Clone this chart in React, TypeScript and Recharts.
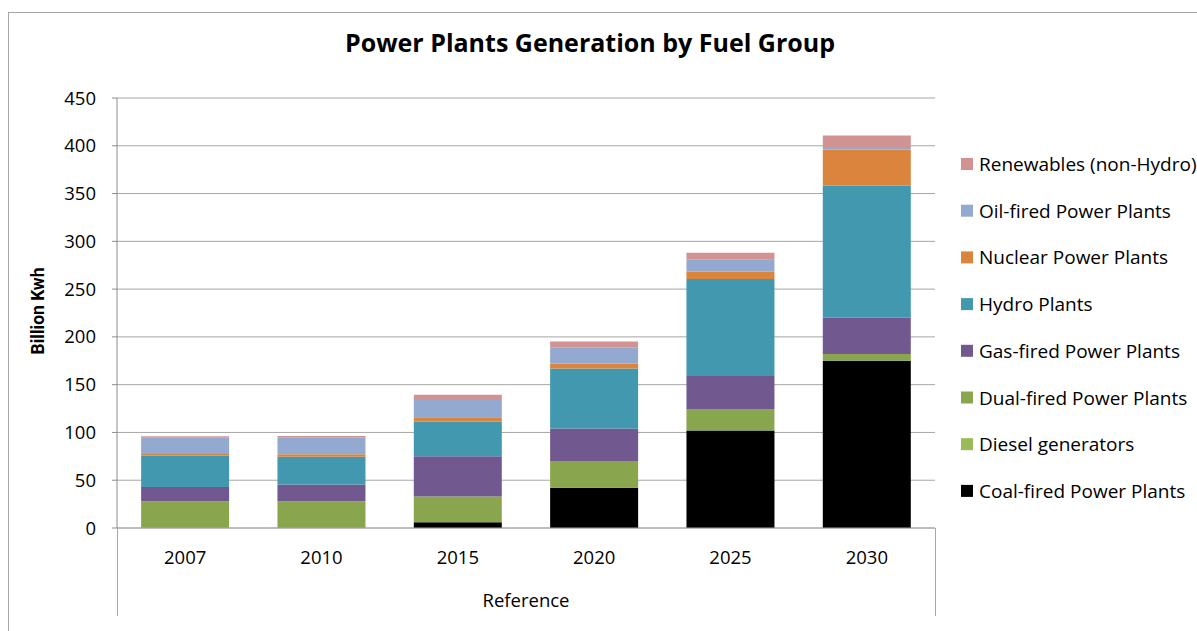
import { Bar, BarChart, CartesianGrid, XAxis, YAxis } from "recharts";

const years = ["2007", "2010", "2015", "2020", "2025", "2030"];
const coal = [0, 0, 6, 42, 102, 175];
const diesel = [0, 0, 0, 0, 0, 0];
const dual = [28, 28, 27, 28, 22, 7];
const gas = [15, 17.5, 42, 34, 35, 38];
const hydro = [32.5, 29, 36.5, 63, 101.5, 138.5];
const nuclear = [2, 2.8, 4.5, 5.2, 8, 37.3];
const oil = [17, 17.6, 18, 17, 12.3, 2];
const renewables = [1.4, 1.4, 5.5, 5.9, 7.3, 13];
const yTicks = [0, 50, 100, 150, 200, 250, 300, 350, 400, 450];

// bottom to top
const series = [
  { key: "coal", name: "Coal-fired Power Plants", color: "#000000", values: coal },
  { key: "diesel", name: "Diesel generators", color: "#9BBB59", values: diesel },
  { key: "dual", name: "Dual-fired Power Plants", color: "#89A54E", values: dual },
  { key: "gas", name: "Gas-fired Power Plants", color: "#71588F", values: gas },
  { key: "hydro", name: "Hydro Plants", color: "#4198AF", values: hydro },
  { key: "nuclear", name: "Nuclear Power Plants", color: "#DB843D", values: nuclear },
  { key: "oil", name: "Oil-fired Power Plants", color: "#93A9CF", values: oil },
  { key: "renew", name: "Renewables (non-Hydro)", color: "#D19392", values: renewables },
];

const chartData = years.map((year, i) => {
  const row: Record<string, string | number> = { year };
  series.forEach((s) => {
    row[s.key] = s.values[i];
  });
  return row;
});

const font = "'Open Sans', sans-serif";

export default function App() {
  const legendItems = [...series].reverse();
  return (
    <div style={{ position: "absolute", left: 0, top: 0, width: 1197, height: 631, background: "#fff", fontFamily: font, overflow: "hidden" }}>
      <BarChart
        width={1197}
        height={631}
        data={chartData}
        margin={{ top: 98, right: 262, bottom: 15, left: 47 }}
        barCategoryGap="17.7%"
      >
        <CartesianGrid vertical={false} stroke="#a6a6a6" />
        <XAxis
          dataKey="year"
          height={88}
          tickLine={false}
          tickSize={6}
          tickMargin={17}
          axisLine={{ stroke: "#a6a6a6" }}
          tick={{ fill: "#000", fontSize: 18.5, fontFamily: font }}
          label={{ value: "Reference", position: "insideBottom", offset: 9, fill: "#000", fontSize: 18.5, fontFamily: font }}
        />
        <YAxis
          domain={[0, 450]}
          ticks={yTicks}
          width={70}
          tickSize={5}
          tickMargin={16}
          axisLine={{ stroke: "#8c8c8c" }}
          tickLine={{ stroke: "#8c8c8c" }}
          tick={{ fill: "#000", fontSize: 18.5, fontFamily: font }}
        />
        {series.map((s) => (
          <Bar
            key={s.key}
            dataKey={s.key}
            name={s.name}
            stackId="a"
            fill={s.color}
            isAnimationActive={false}
          />
        ))}
      </BarChart>
      <svg
        width={1197}
        height={631}
        style={{ position: "absolute", left: 0, top: 0, pointerEvents: "none" }}
      >
        <rect x={8.5} y={12.5} width={1300} height={700} fill="none" stroke="#a6a6a6" />
        <line x1={117.5} y1={528} x2={117.5} y2={616} stroke="#a6a6a6" />
        <line x1={935.5} y1={528} x2={935.5} y2={616} stroke="#a6a6a6" />
        <text x={590} y={42} textAnchor="middle" dominantBaseline="central" fontSize={25} fontWeight="bold" fontFamily={font}>
          Power Plants Generation by Fuel Group
        </text>
        <text
          transform="translate(38, 311) rotate(-90)"
          textAnchor="middle"
          dominantBaseline="central"
          fontSize={17.5}
          fontWeight="bold"
          fontFamily="Roboto, sans-serif"
        >
          Billion Kwh
        </text>
        {legendItems.map((s, i) => {
          const cy = 164 + i * 46.7;
          return (
            <g key={s.key}>
              <rect x={961} y={cy - 6} width={12} height={12} fill={s.color} />
              <text x={979} y={cy} dominantBaseline="central" fontSize={19} fontFamily={font}>
                {s.name}
              </text>
            </g>
          );
        })}
      </svg>
    </div>
  );
}
